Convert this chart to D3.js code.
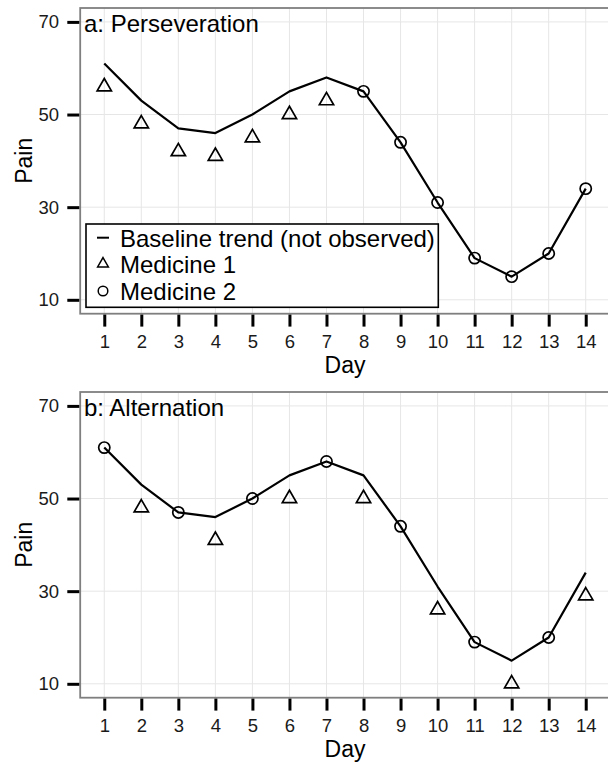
<!DOCTYPE html>
<html>
<head>
<meta charset="utf-8">
<script src="https://cdn.jsdelivr.net/npm/d3@7"></script>
<style>
  body { margin: 0; background: #fff; }
  svg { display: block; font-family: "Liberation Sans", Arial, Helvetica, sans-serif; }
</style>
</head>
<body>
<div id="chart"></div>
<script>
// data
var days = [1, 2, 3, 4, 5, 6, 7, 8, 9, 10, 11, 12, 13, 14];
var baseline = [61, 53, 47, 46, 50, 55, 58, 55, 44, 31, 19, 15, 20, 34];

var persevMed1Days = [1, 2, 3, 4, 5, 6, 7];
var persevMed1Pain = [56, 48, 42, 41, 45, 50, 53];
var persevMed2Days = [8, 9, 10, 11, 12, 13, 14];
var persevMed2Pain = [55, 44, 31, 19, 15, 20, 34];

var altMed1Days = [2, 4, 6, 8, 10, 12, 14];
var altMed1Pain = [48, 41, 50, 50, 26, 10, 29];
var altMed2Days = [1, 3, 5, 7, 9, 11, 13];
var altMed2Pain = [61, 47, 50, 58, 44, 19, 20];

var yTicks = [10, 30, 50, 70];
var legendLabels = ["Baseline trend (not observed)", "Medicine 1", "Medicine 2"];

var W = 608, H = 762;
var svg = d3.select("#chart").append("svg")
    .attr("width", W)
    .attr("height", H);

var x = d3.scaleLinear()
    .domain([0.35, 14.65])
    .range([80.2, 609.8]);

// triangle like R's pch 2, centred on the point
function triangle(cx, cy, r) {
    var top = 1.5551 * r, half = 1.3468 * r, bot = 0.7776 * r;
    return "M" + cx + "," + (cy - top) +
        "L" + (cx + half) + "," + (cy + bot) +
        "L" + (cx - half) + "," + (cy + bot) + "Z";
}

function drawPanel(top, title, med1Days, med1Pain, med2Days, med2Pain, withLegend) {
    var bottom = top + 305.7;
    var y = d3.scaleLinear()
        .domain([7, 73])
        .range([bottom, top]);

    var g = svg.append("g");

    // grid
    g.selectAll(".gx").data(days).enter().append("line")
        .attr("x1", function (d) { return x(d); })
        .attr("x2", function (d) { return x(d); })
        .attr("y1", top).attr("y2", bottom)
        .attr("stroke", "#e6e6e6").attr("stroke-width", 1);
    g.selectAll(".gy").data(yTicks).enter().append("line")
        .attr("x1", x.range()[0]).attr("x2", x.range()[1])
        .attr("y1", function (d) { return y(d); })
        .attr("y2", function (d) { return y(d); })
        .attr("stroke", "#e6e6e6").attr("stroke-width", 1);

    // panel border
    g.append("rect")
        .attr("x", x.range()[0]).attr("y", top)
        .attr("width", x.range()[1] - x.range()[0])
        .attr("height", bottom - top)
        .attr("fill", "none")
        .attr("stroke", "#7f7f7f")
        .attr("stroke-width", 1.8);

    // axes
    var yAxis = d3.axisLeft(y).tickValues(yTicks).tickSize(12).tickPadding(8.3);
    var gy = g.append("g")
        .attr("transform", "translate(" + (x.range()[0] - 0.9) + ",0)")
        .call(yAxis);
    var xAxis = d3.axisBottom(x).tickValues(days).tickSize(12).tickPadding(8)
        .tickFormat(d3.format("d"));
    var gx = g.append("g")
        .attr("transform", "translate(0," + (bottom + 0.9) + ")")
        .call(xAxis);
    [gx, gy].forEach(function (a) {
        a.select(".domain").remove();
        a.selectAll("line").attr("stroke", "#000").attr("stroke-width", 3);
        a.selectAll("text").attr("fill", "#1a1a1a").style("font-size", "18.5px")
            .style("font-family", "'Liberation Sans', Arial, sans-serif");
    });

    // axis titles
    g.append("text")
        .attr("x", (x.range()[0] + x.range()[1]) / 2)
        .attr("y", bottom + 59.5)
        .attr("text-anchor", "middle")
        .style("font-size", "23px")
        .text("Day");
    g.append("text")
        .attr("transform", "translate(32.3," + ((top + bottom) / 2) + ") rotate(-90)")
        .attr("text-anchor", "middle")
        .style("font-size", "23px")
        .text("Pain");

    // panel title
    g.append("text")
        .attr("x", 84)
        .attr("y", top + 23.7)
        .style("font-size", "24px")
        .text(title);

    // baseline trend
    var line = d3.line()
        .x(function (d, i) { return x(days[i]); })
        .y(function (d) { return y(d); });
    g.append("path")
        .datum(baseline)
        .attr("d", line)
        .attr("fill", "none")
        .attr("stroke", "#000")
        .attr("stroke-width", 2.2)
        .attr("stroke-linejoin", "round");

    // medicine 1 triangles
    g.selectAll(".m1").data(med1Pain).enter().append("path")
        .attr("d", function (d, i) { return triangle(x(med1Days[i]), y(d), 5.3); })
        .attr("fill", "none")
        .attr("stroke", "#000")
        .attr("stroke-width", 1.7);

    // medicine 2 circles
    g.selectAll(".m2").data(med2Pain).enter().append("circle")
        .attr("cx", function (d, i) { return x(med2Days[i]); })
        .attr("cy", function (d) { return y(d); })
        .attr("r", 5.6)
        .attr("fill", "none")
        .attr("stroke", "#000")
        .attr("stroke-width", 1.7);

    if (withLegend) {
        var lg = g.append("g");
        lg.append("rect")
            .attr("x", 86).attr("y", 224)
            .attr("width", 352.3).attr("height", 83.3)
            .attr("fill", "#fff")
            .attr("stroke", "#000")
            .attr("stroke-width", 1.6);
        var rows = [246.7, 273.3, 300];
        var kx = 103;
        lg.append("line")
            .attr("x1", kx - 6).attr("x2", kx + 6)
            .attr("y1", rows[0] - 9).attr("y2", rows[0] - 9)
            .attr("stroke", "#000").attr("stroke-width", 2);
        lg.append("path")
            .attr("d", triangle(kx, rows[1] - 9.5, 4))
            .attr("fill", "none").attr("stroke", "#000").attr("stroke-width", 1.5);
        lg.append("circle")
            .attr("cx", kx).attr("cy", rows[2] - 9)
            .attr("r", 4.8)
            .attr("fill", "none").attr("stroke", "#000").attr("stroke-width", 1.5);
        lg.selectAll(".lt").data(legendLabels).enter().append("text")
            .attr("x", 120)
            .attr("y", function (d, i) { return rows[i]; })
            .style("font-size", "24px")
            .text(function (d) { return d; });
    }
}

drawPanel(8, "a: Perseveration", persevMed1Days, persevMed1Pain, persevMed2Days, persevMed2Pain, true);
drawPanel(392, "b: Alternation", altMed1Days, altMed1Pain, altMed2Days, altMed2Pain, false);
</script>
</body>
</html>
